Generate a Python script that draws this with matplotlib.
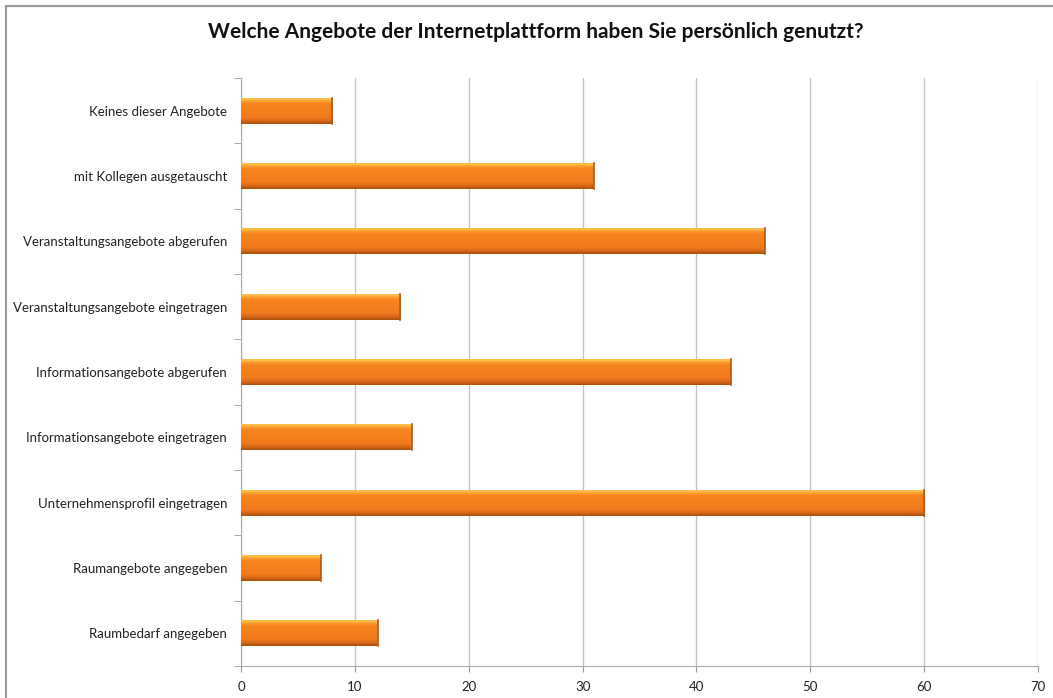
import numpy as np
import matplotlib.pyplot as plt
from matplotlib.colors import LinearSegmentedColormap
from matplotlib.lines import Line2D

categories = [
    "Raumbedarf angegeben",
    "Raumangebote angegeben",
    "Unternehmensprofil eingetragen",
    "Informationsangebote eingetragen",
    "Informationsangebote abgerufen",
    "Veranstaltungsangebote eingetragen",
    "Veranstaltungsangebote abgerufen",
    "mit Kollegen ausgetauscht",
    "Keines dieser Angebote",
]
values = [12, 7, 60, 15, 43, 14, 46, 31, 8]
xticks = [0, 10, 20, 30, 40, 50, 60, 70]
title = "Welche Angebote der Internetplattform haben Sie persönlich genutzt?"

plt.rcParams['font.family'] = ['Lato', 'DejaVu Sans']

fig = plt.figure(figsize=(10.53, 6.98), dpi=100)
ax = fig.add_axes([241 / 1053, 1 - 666 / 698, 797 / 1053, 588 / 698])

# cylinder-like shading, bottom -> top: dark rim, flat orange body, yellow highlight
shade = LinearSegmentedColormap.from_list(
    "shade", [(0.0, "#a8500e"), (0.12, "#d86818"), (0.25, "#f07a1c"),
              (0.75, "#f7841f"), (0.86, "#fba030"), (0.93, "#ffc850"),
              (1.0, "#f59a30")])
grad = np.linspace(0, 1, 128).reshape(-1, 1)

y = np.arange(len(categories))
h = 0.4
bars = ax.barh(y, values, height=h, color="#f5821f", zorder=3)
for bar, v, yc in zip(bars, values, y):
    im = ax.imshow(grad, cmap=shade, aspect="auto", origin="lower",
                   extent=[0, v, yc - h / 2, yc + h / 2], zorder=4)
    im.set_clip_path(bar)
    ax.plot([v, v], [yc - h / 2, yc + h / 2], color="#b8580f", lw=1.2, zorder=5)

ax.set_xlim(0, 70)
ax.set_ylim(-0.5, len(categories) - 0.5)
ax.set_xticks(xticks)
ax.set_yticks(y)
ax.set_yticklabels(categories)
ax.set_yticks(np.arange(-0.5, len(categories), 1), minor=True)
ax.tick_params(axis="y", which="major", length=0, pad=10, labelsize=9.5, colors="#222222")
ax.tick_params(axis="y", which="minor", length=5, color="#999999", direction="out")
ax.tick_params(axis="x", length=4, color="#999999", pad=7, labelsize=9.5, colors="#222222")

ax.grid(axis="x", color="#c4c4c4", lw=1, zorder=0)
for side in ["top", "right"]:
    ax.spines[side].set_visible(False)
for side in ["left", "bottom"]:
    ax.spines[side].set_color("#aaaaaa")

fig.text(536 / 1053, 1 - 32 / 698, title, ha="center", va="center",
         fontsize=15, fontweight="bold", color="#111111")

# outer frame of the chart area
fig.add_artist(Line2D([6 / 1053, 1], [1 - 6 / 698] * 2, color="#999999", lw=1.5))
fig.add_artist(Line2D([6 / 1053] * 2, [0, 1 - 6 / 698], color="#999999", lw=1.5))

fig.savefig("out.png", dpi=100)
